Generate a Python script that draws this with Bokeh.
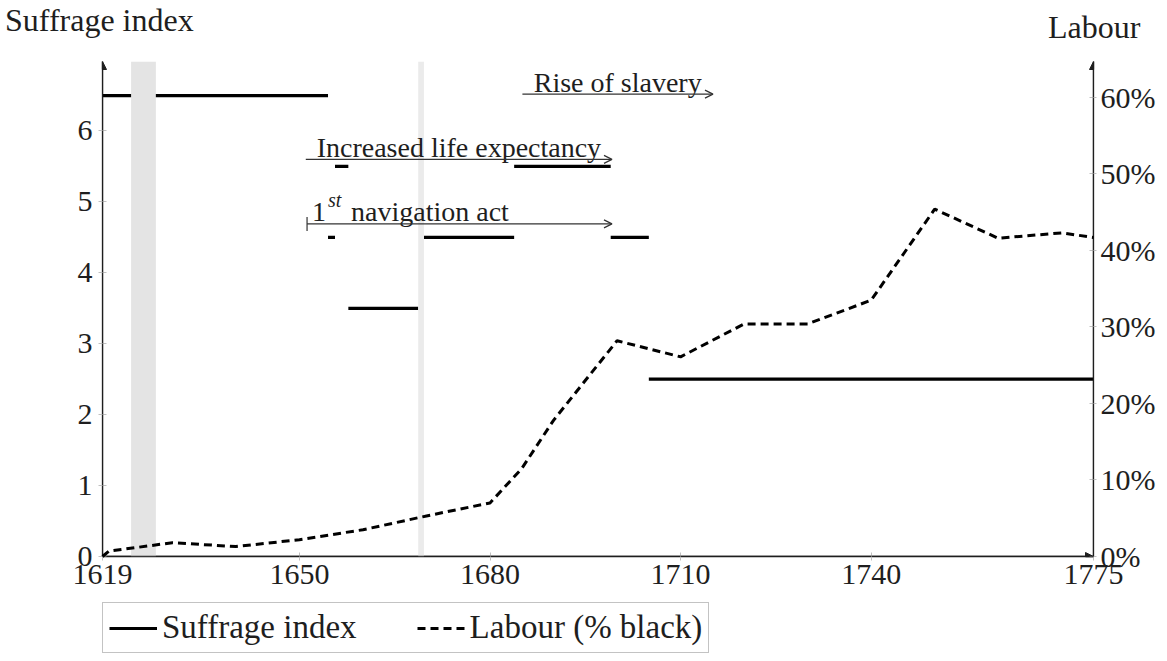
from bokeh.plotting import figure
from bokeh.layouts import column
from bokeh.models import (Range1d, LinearAxis, FixedTicker, PrintfTickFormatter, BoxAnnotation,
                          Arrow, OpenHead, NormalHead, TeeHead, Legend, LegendItem,
                          ColumnDataSource, Div)
from bokeh.core.properties import value
from bokeh.embed import file_html
from bokeh.resources import INLINE

FONT = "Liberation Serif"
INK = "#1e1e1e"

# ---- data ----
# Suffrage index: piecewise-constant segments (start year, end year, level)
suff_start = [1619.0, 1654.5, 1655.6, 1657.7, 1669.6, 1683.8, 1699.0, 1705.0]
suff_end = [1654.5, 1655.6, 1657.7, 1668.7, 1683.8, 1699.0, 1705.0, 1775.0]
suff_level = [6.5, 4.5, 5.5, 3.5, 4.5, 5.5, 4.5, 2.5]

# Labour (% black)
labour_years = [1619, 1620, 1630, 1640, 1650, 1660, 1670, 1680, 1685, 1690,
                1700, 1710, 1720, 1730, 1740, 1750, 1760, 1770, 1775]
labour_pct = [0.0, 0.7, 1.8, 1.3, 2.2, 3.5, 5.3, 7.0, 11.5, 17.8,
              28.2, 26.1, 30.4, 30.4, 33.5, 45.4, 41.6, 42.3, 41.7]

# shaded periods
band_start = [1623.5, 1668.7]
band_end = [1627.4, 1669.6]
band_color = ["#e4e4e4", "#ebebeb"]

# annotated periods (arrows)
ann_text = ["Rise of slavery", "Increased life expectancy", "navigation act"]
ann_start = [1685.1, 1651.0, 1651.2]
ann_end = [1715.1, 1699.2, 1699.2]
ann_level = [6.52, 5.6, 4.69]
ann_bar = [False, False, True]

year_ticks = [1619, 1650, 1680, 1710, 1740, 1775]
suff_ticks = [0, 1, 2, 3, 4, 5, 6]
labour_ticks = [0, 10, 20, 30, 40, 50, 60]

left_title = "Suffrage index"
right_title = "Labour"
series_names = ["Suffrage index", "Labour (% black)"]

X0, X1 = 1619, 1775
YMAX = 6.98
YMAX_LAB = 64.7

W = 1160
HEAD_H = 61

# ---- header carrying the two axis titles ----
span_css = ("position:absolute;white-space:nowrap;line-height:1;"
            "font-family:'Liberation Serif',serif;font-size:32px;color:%s;" % INK)
head = Div(text=('<div style="position:relative;width:%dpx;height:%dpx;margin:0;padding:0;">'
                 '<span style="%sleft:5px;top:4px;">%s</span>'
                 '<span style="%sleft:1048px;top:11px;">%s</span></div>')
                % (W, HEAD_H, span_css, left_title, span_css, right_title),
           width=W, height=HEAD_H, margin=0)

# ---- main chart ----
p = figure(frame_width=991, frame_height=495,
           x_range=Range1d(X0, X1), y_range=Range1d(0, YMAX),
           output_backend="svg", toolbar_location=None,
           min_border_left=102, min_border_right=W - 102 - 991, min_border_top=0,
           min_border_bottom=46,
           background_fill_color="white", border_fill_color="white")
p.extra_y_ranges = {"labour": Range1d(0, YMAX_LAB)}
p.grid.visible = False
p.outline_line_color = None


def style_axis(ax, ticks):
    ax.ticker = FixedTicker(ticks=ticks)
    ax.minor_tick_line_color = None
    ax.major_tick_in = 4
    ax.major_tick_out = 4
    ax.major_tick_line_color = "#c0c0c0"
    ax.major_tick_line_width = 1
    ax.axis_line_color = INK
    ax.axis_line_width = 1.3
    ax.major_label_text_font = FONT
    ax.major_label_text_font_size = "30px"
    ax.major_label_text_color = INK


style_axis(p.xaxis[0], year_ticks)
p.xaxis[0].major_label_standoff = 4
style_axis(p.yaxis[0], suff_ticks)
p.yaxis[0].major_label_standoff = 6

rax = LinearAxis(y_range_name="labour")
style_axis(rax, labour_ticks)
rax.formatter = PrintfTickFormatter(format="%d%%")
rax.major_tick_out = 3
rax.major_label_standoff = 4
p.add_layout(rax, "right")

# suffrage index segments
suff_src = ColumnDataSource(dict(x0=suff_start, x1=suff_end, y=suff_level))
seg = p.segment(x0="x0", y0="y", x1="x1", y1="y", source=suff_src,
                line_color="black", line_width=3.2, line_cap="butt")

# shaded bands (over the solid line, under the dashed line)
for s, e, c in zip(band_start, band_end, band_color):
    p.add_layout(BoxAnnotation(left=s, right=e, fill_color=c, fill_alpha=1.0,
                               line_color=None))

# labour dashed line
lab_src = ColumnDataSource(dict(x=labour_years, y=labour_pct))
lab = p.line(x="x", y="y", source=lab_src, y_range_name="labour", line_color="black",
             line_width=3, line_dash="8 5", level="overlay")

# annotation arrows
for s, e, lv, bar in zip(ann_start, ann_end, ann_level, ann_bar):
    arr = Arrow(x_start=s, y_start=lv, x_end=e, y_end=lv,
                end=OpenHead(size=8, line_width=1.2, line_color="#333333"),
                line_color="#333333", line_width=1.2, level="overlay")
    if bar:
        arr.start = TeeHead(size=14, line_width=1.2, line_color="#333333")
    p.add_layout(arr)

# annotation texts
TY = -12
p.text(x=[(ann_start[0] + ann_end[0]) / 2, (ann_start[1] + ann_end[1]) / 2],
       y=[ann_level[0], ann_level[1]], text=[ann_text[0], ann_text[1]],
       text_font=value(FONT), text_font_size="28px", text_color=INK,
       text_align="center", text_baseline="alphabetic", y_offset=TY, level="overlay")
p.text(x=[ann_start[2]], y=[ann_level[2]], text=["1"],
       text_font=value(FONT), text_font_size="28px", text_color=INK,
       text_align="left", text_baseline="alphabetic", x_offset=5, y_offset=TY, level="overlay")
p.text(x=[ann_start[2]], y=[ann_level[2]], text=["st"],
       text_font=value(FONT), text_font_style="italic", text_font_size="20px", text_color=INK,
       text_align="left", text_baseline="alphabetic", x_offset=21, y_offset=TY - 12,
       level="overlay")
p.text(x=[ann_start[2]], y=[ann_level[2]], text=[ann_text[2]],
       text_font=value(FONT), text_font_size="28px", text_color=INK,
       text_align="left", text_baseline="alphabetic", x_offset=44, y_offset=TY, level="overlay")

# axis arrow heads
for xs, ys, xe, ye in [(X0, 0, X0, YMAX), (X1, 0, X1, YMAX), (X0, 0, X1, 0)]:
    p.add_layout(Arrow(x_start=xs, y_start=ys, x_end=xe, y_end=ye,
                       end=NormalHead(size=8, fill_color=INK, line_color=INK, line_width=1),
                       line_color=INK, line_width=1.3))

# ---- footer strip carrying the legend ----
# (the series are drawn again here, outside this strip's visible range, only to
#  give the legend its line samples)
foot = figure(width=W, height=58, x_range=Range1d(0, 1), y_range=Range1d(0, 1),
              output_backend="svg", toolbar_location=None, min_border=0,
              background_fill_color="white", border_fill_color="white")
foot.axis.visible = False
foot.grid.visible = False
foot.outline_line_color = None
k_solid = foot.segment(x0="x0", y0="y", x1="x1", y1="y", source=suff_src,
                       line_color="black", line_width=3.2, line_cap="butt")
k_dash = foot.line(x="x", y="y", source=lab_src, line_color="black", line_width=3,
                   line_dash="8 5")
legend = Legend(items=[LegendItem(label=series_names[0], renderers=[k_solid]),
                       LegendItem(label=series_names[1], renderers=[k_dash])],
                orientation="horizontal", location="top_left",
                label_text_font=FONT, label_text_font_size="33px", label_text_color=INK,
                glyph_width=48, glyph_height=20, label_standoff=5, spacing=60,
                padding=6, margin=0, border_line_color="#888888", border_line_width=1.2,
                background_fill_color="white", background_fill_alpha=1.0)
foot.add_layout(legend)

layout = column(head, p, foot, spacing=0)
open("out.html", "w").write(file_html(layout, INLINE))
